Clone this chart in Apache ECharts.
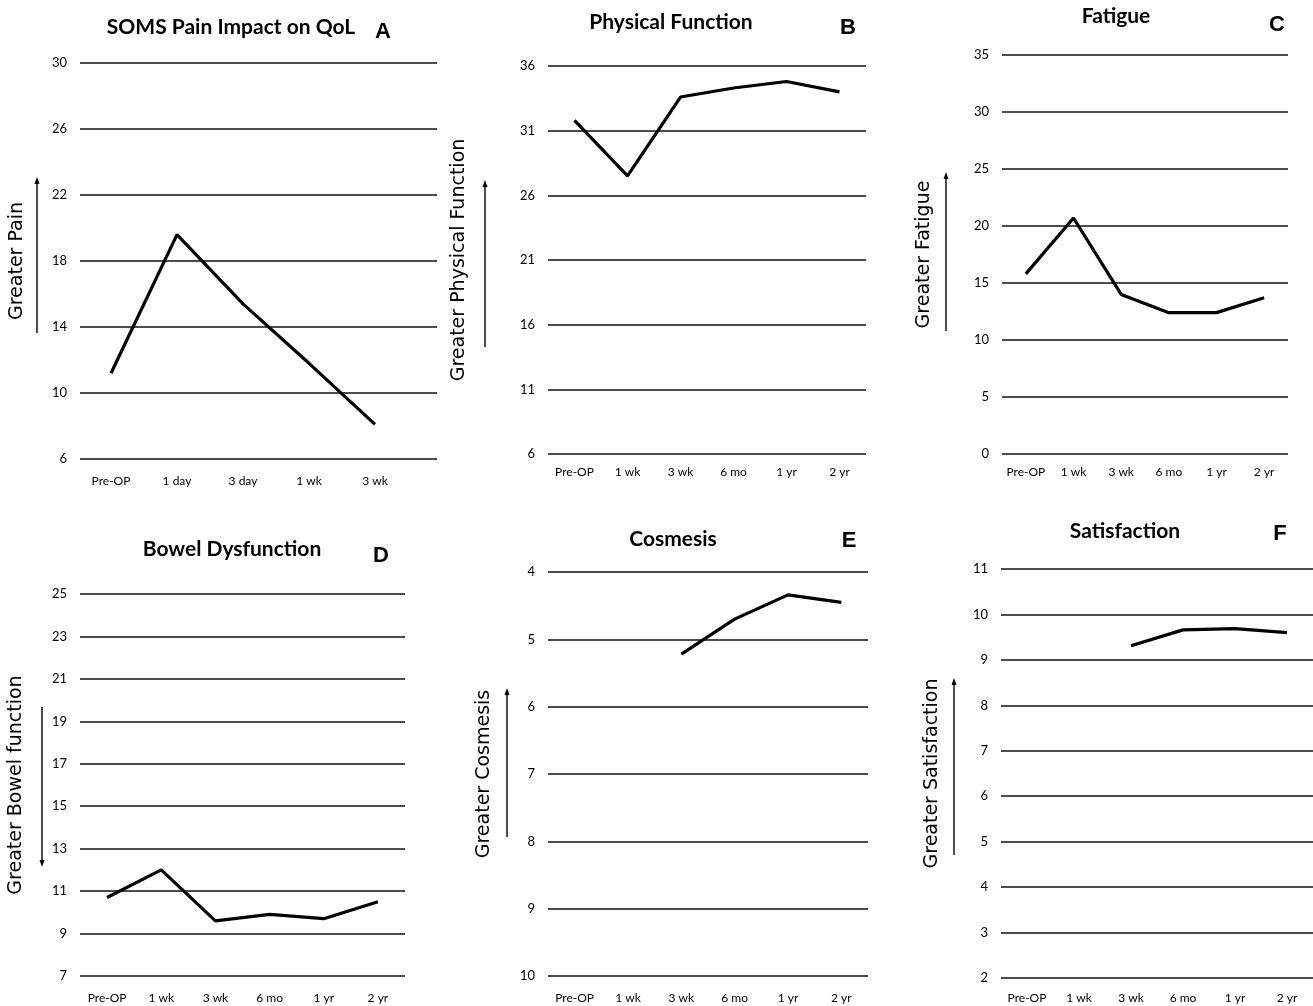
<!DOCTYPE html>
<html>
<head>
<meta charset="utf-8">
<script src="https://cdn.jsdelivr.net/npm/echarts@6/dist/echarts.min.js"></script>
<style>
  html, body { margin: 0; background: #fff; }
  #chart { width: 1313px; height: 1006px; }
</style>
</head>
<body>
<div id="chart"></div>
<script>
// time points
const periodsShort = ['Pre-OP', '1 day', '3 day', '1 wk', '3 wk']
const periods = ['Pre-OP', '1 wk', '3 wk', '6 mo', '1 yr', '2 yr']

// mean scores
const painQol = [11.2, 19.6, 15.4, 11.8, 8.1]
const physicalFunction = [31.8, 27.5, 33.6, 34.3, 34.8, 34.0]
const fatigue = [15.8, 20.7, 14.0, 12.4, 12.4, 13.7]
const bowelDysfunction = [10.7, 12.0, 9.6, 9.9, 9.7, 10.5]
const cosmesis = [null, null, 5.22, 4.70, 4.34, 4.45]
const satisfaction = [null, null, 9.31, 9.66, 9.69, 9.60]

const panels = [
  { title: 'SOMS Pain Impact on QoL', letter: 'A', cats: periodsShort, data: painQol,
    yName: 'Greater Pain', min: 6, max: 30, step: 4,
    frame: [80, 63, 357, 396], plot: [78, 63, 330, 396], nameGap: 53, xMargin: 16,
    titleAt: [231, 17], letterAt: [383, 21], arrow: [37, 333, 177] },
  { title: 'Physical Function', letter: 'B', cats: periods, data: physicalFunction,
    yName: 'Greater Physical Function', min: 6, max: 36, step: 5,
    frame: [548, 66, 318, 388], nameGap: 79, xMargin: 12,
    titleAt: [671, 12], letterAt: [848, 17], arrow: [485, 347, 180] },
  { title: 'Fatigue', letter: 'C', cats: periods, data: fatigue,
    yName: 'Greater Fatigue', min: 0, max: 35, step: 5,
    frame: [1002, 55, 286, 399], nameGap: 68, xMargin: 12,
    titleAt: [1116, 6], letterAt: [1277, 14], arrow: [946, 331, 172] },
  { title: 'Bowel Dysfunction', letter: 'D', cats: periods, data: bowelDysfunction,
    yName: 'Greater Bowel function', min: 7, max: 25, step: 2,
    frame: [80, 594, 325, 382], nameGap: 54, xMargin: 16,
    titleAt: [232, 539], letterAt: [381, 545], arrow: [42, 707, 867] },
  { title: 'Cosmesis', letter: 'E', cats: periods, data: cosmesis, inverse: true,
    yName: 'Greater Cosmesis', min: 4, max: 10, step: 1,
    frame: [548, 572, 320, 404], nameGap: 54, xMargin: 16,
    titleAt: [673, 529], letterAt: [849, 530], arrow: [507, 837, 688] },
  { title: 'Satisfaction', letter: 'F', cats: periods, data: satisfaction,
    yName: 'Greater Satisfaction', min: 2, max: 11, step: 1,
    frame: [1001, 569, 324, 409], nameGap: 59, xMargin: 14,
    titleAt: [1125, 521], letterAt: [1280, 523], arrow: [954, 855, 678] }
]

const chart = echarts.init(document.getElementById('chart'))

const grid = [], xAxis = [], yAxis = [], series = [], title = [], graphic = []

panels.forEach((p) => {
  const plot = p.plot || p.frame
  const g0 = grid.length
  grid.push({ left: p.frame[0], top: p.frame[1], width: p.frame[2], height: p.frame[3] })
  grid.push({ left: plot[0], top: plot[1], width: plot[2], height: plot[3] })

  // frame grid: gridlines and y tick labels
  xAxis.push({ gridIndex: g0, type: 'value', show: false })
  yAxis.push({
    gridIndex: g0, type: 'value', min: p.min, max: p.max, interval: p.step, inverse: !!p.inverse,
    name: p.yName, nameLocation: 'middle', nameGap: p.nameGap,
    nameTextStyle: { fontFamily: 'DejaVu Sans', fontSize: 19, color: '#000' },
    axisLine: { show: false }, axisTick: { show: false },
    axisLabel: { margin: 13, color: '#000', fontFamily: 'Lato', fontSize: 13 },
    splitLine: { lineStyle: { color: '#111', width: 1.5 } }
  })
  // plot grid: categories and the line
  xAxis.push({
    gridIndex: g0 + 1, type: 'category', data: p.cats, boundaryGap: true,
    axisLine: { show: false }, axisTick: { show: false },
    axisLabel: { margin: p.xMargin, color: '#000', fontFamily: 'Lato', fontSize: 12, interval: 0 }
  })
  yAxis.push({
    gridIndex: g0 + 1, type: 'value', min: p.min, max: p.max, inverse: !!p.inverse, show: false,
    splitLine: { show: false }
  })
  series.push({
    type: 'line', xAxisIndex: g0 + 1, yAxisIndex: g0 + 1, data: p.data,
    showSymbol: false, symbol: 'none', connectNulls: false,
    lineStyle: { color: '#000', width: 3.2 }, animation: false
  })

  title.push({
    text: p.title, left: p.titleAt[0], top: p.titleAt[1], textAlign: 'center', padding: 0,
    textStyle: { fontFamily: 'Lato', fontWeight: 'bold', fontSize: 21, color: '#000' }
  })
  title.push({
    text: p.letter, left: p.letterAt[0], top: p.letterAt[1], textAlign: 'center', padding: 0,
    textStyle: { fontFamily: 'Liberation Sans', fontWeight: 'bold', fontSize: 22, color: '#000' }
  })

  // direction arrow next to the axis name
  const [ax, y1, y2] = p.arrow
  const dir = y2 < y1 ? -1 : 1
  graphic.push({
    type: 'group', silent: true,
    children: [
      { type: 'line', shape: { x1: ax, y1: y1, x2: ax, y2: y2 - dir * 4 }, style: { stroke: '#000', lineWidth: 1.4 } },
      { type: 'polygon', shape: { points: [[ax, y2], [ax - 2.5, y2 - dir * 7], [ax + 2.5, y2 - dir * 7]] }, style: { fill: '#000' } }
    ]
  })
})

chart.setOption({
  backgroundColor: '#fff',
  animation: false,
  title,
  grid,
  xAxis,
  yAxis,
  series,
  graphic
})
</script>
</body>
</html>
